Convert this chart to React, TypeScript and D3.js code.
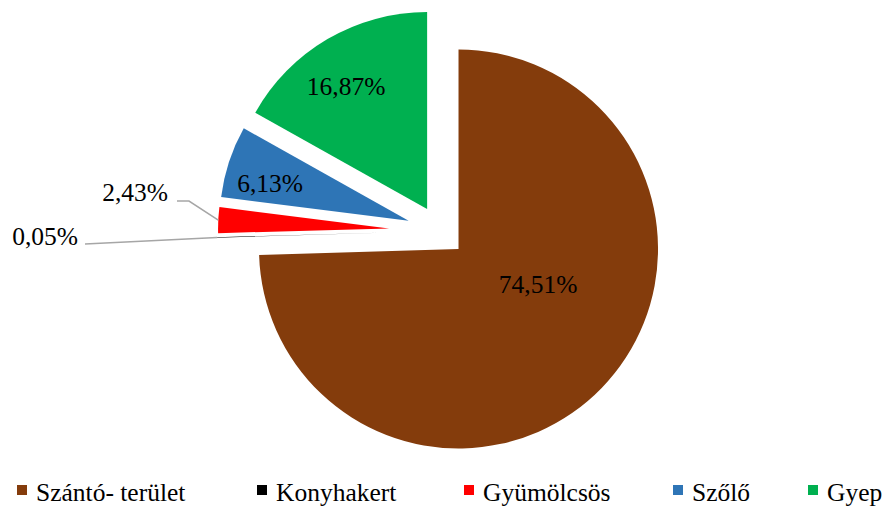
import React, { useEffect, useRef } from "react";
import * as d3 from "d3";

const categories = ["Szántó- terület", "Konyhakert", "Gyümölcsös", "Szőlő", "Gyep"];
const values = [74.51, 0.05, 2.43, 6.13, 16.87];
const labels = ["74,51%", "0,05%", "2,43%", "6,13%", "16,87%"];
const colors = ["#843C0C", "#000000", "#FF0000", "#2E75B6", "#00B050"];

const W = 883;
const H = 506;
const FONT = "Liberation Serif, Times New Roman, serif";

// per-slice layout: explosion distance from common centre, radius
const explodeBy = [25.8, 51, 51, 33, 25.5];
const radiusBy = [199.5, 172, 171, 189, 197];

export default function App() {
  const ref = useRef<SVGSVGElement>(null);

  useEffect(() => {
    const svg = d3.select(ref.current);
    svg.selectAll("*").remove();

    const cx = 440;
    const cy = 231;

    const pie = d3
      .pie<number>()
      .sort(null)
      .value((d) => d)
      .startAngle(0)
      .endAngle(2 * Math.PI);
    const arcs = pie(values);

    const centerOf = (a: d3.PieArcDatum<number>) => {
      const m = (a.startAngle + a.endAngle) / 2;
      const e = explodeBy[a.index];
      return [cx + e * Math.sin(m), cy - e * Math.cos(m)];
    };

    const g = svg.append("g");
    arcs.forEach((a, i) => {
      const [x, y] = centerOf(a);
      const arc = d3.arc<d3.PieArcDatum<number>>().innerRadius(0).outerRadius(radiusBy[i]);
      g.append("path")
        .attr("d", arc(a) as string)
        .attr("transform", `translate(${x},${y})`)
        .attr("fill", colors[i]);
    });

    // inner labels: [index, angle (deg from top), distance as fraction of radius]
    const inner: [number, number, number][] = [
      [0, 113.8, 0.436],
      [4, 326.5, 0.745],
      [3, 285, 0.759],
    ];
    inner.forEach(([i, ang, f]) => {
      const [x, y] = centerOf(arcs[i]);
      const t = (ang * Math.PI) / 180;
      const rr = radiusBy[i] * f;
      svg
        .append("text")
        .attr("x", x + rr * Math.sin(t))
        .attr("y", y - rr * Math.cos(t) + 8.5)
        .attr("text-anchor", "middle")
        .style("font-family", FONT)
        .style("font-size", "25.5px")
        .attr("fill", "#000")
        .text(labels[i]);
    });

    // outside labels with leader lines
    const outer: { i: number; tx: number; ty: number; pts: [number, number][] }[] = [
      { i: 2, tx: 168, ty: 201, pts: [[177, 201], [189, 201]] },
      { i: 1, tx: 78, ty: 245, pts: [[85, 244]] },
    ];
    outer.forEach(({ i, tx, ty, pts }) => {
      const a = arcs[i];
      const [x, y] = centerOf(a);
      const m = (a.startAngle + a.endAngle) / 2;
      const r = radiusBy[i];
      const end: [number, number] = [x + r * Math.sin(m), y - r * Math.cos(m)];
      svg
        .append("path")
        .attr("d", d3.line()([...pts, end]) as string)
        .attr("fill", "none")
        .attr("stroke", "#A6A6A6")
        .attr("stroke-width", 1.5);
      svg
        .append("text")
        .attr("x", tx)
        .attr("y", ty)
        .attr("text-anchor", "end")
        .style("font-family", FONT)
        .style("font-size", "25.5px")
        .attr("fill", "#000")
        .text(labels[i]);
    });

    // legend
    const legendX = [17, 257, 464, 673, 808];
    const lg = svg.append("g");
    categories.forEach((c, i) => {
      lg.append("rect")
        .attr("x", legendX[i])
        .attr("y", 485)
        .attr("width", 10)
        .attr("height", 10)
        .attr("fill", colors[i]);
      lg.append("text")
        .attr("x", legendX[i] + 19)
        .attr("y", 500.5)
        .style("font-family", FONT)
        .style("font-size", "25.5px")
        .attr("fill", "#000")
        .text(c);
    });
  }, []);

  return (
    <svg
      ref={ref}
      width={W}
      height={H}
      style={{ position: "absolute", left: 0, top: 0, background: "#fff" }}
    />
  );
}
